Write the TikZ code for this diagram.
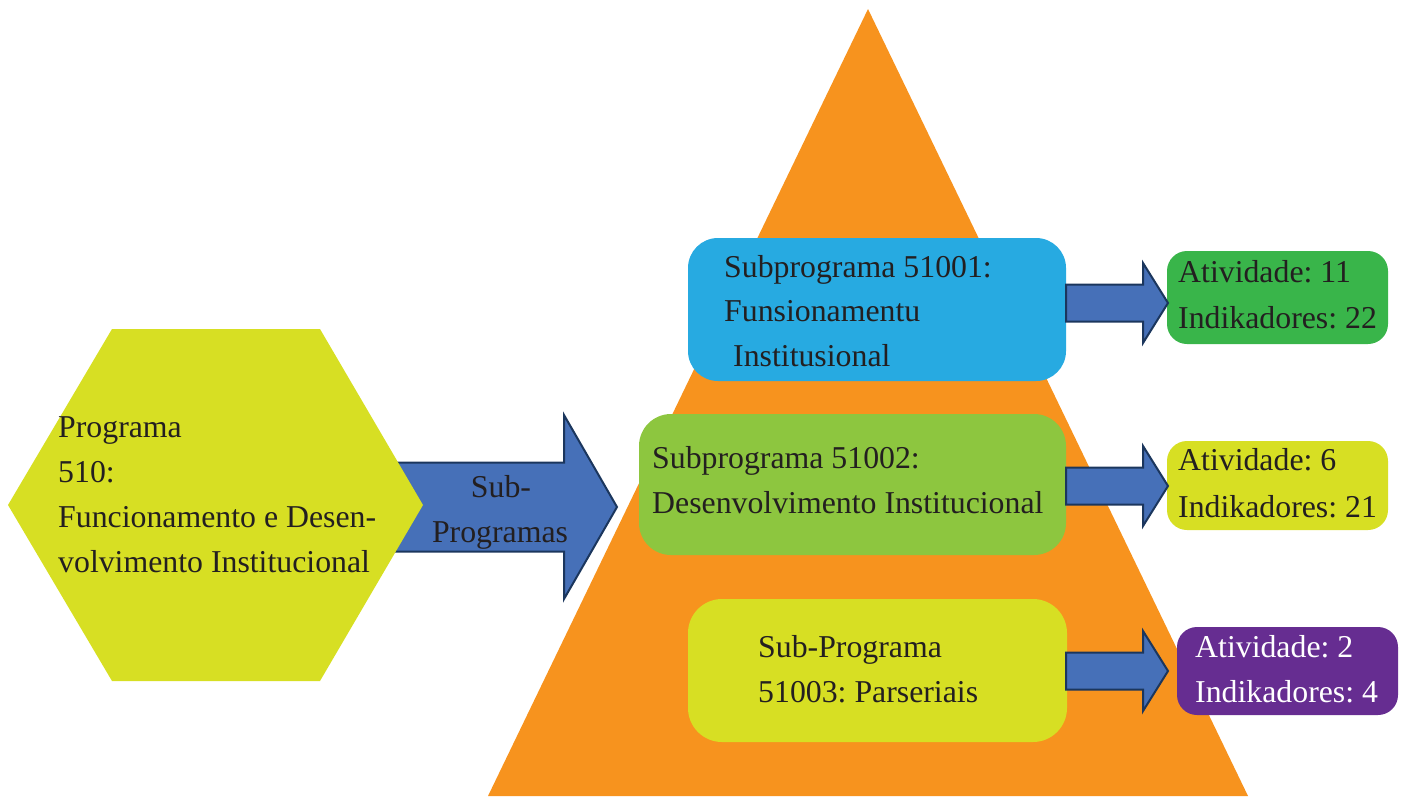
\documentclass[tikz,border=0pt]{standalone}
\usepackage{fontspec}
\setmainfont{Liberation Serif}
\usetikzlibrary{calc}
\definecolor{corange}{HTML}{F7931E}
\definecolor{cblue}{HTML}{27AAE1}
\definecolor{cgreen}{HTML}{8DC63F}
\definecolor{cyellow}{HTML}{D7DF23}
\definecolor{cdgreen}{HTML}{39B54A}
\definecolor{cpurple}{HTML}{662D91}
\definecolor{carrow}{HTML}{4670B8}
\definecolor{carrowline}{HTML}{1B365D}
\definecolor{ctext}{HTML}{231F20}
\newcommand\blockarrow[5]{% tail, tip, shaft half width, head half width, head length
  \draw[arrowsty] let \p1=(#1), \p2=(#2) in
    (\x1,\y1+#3) -- (\x2-#5,\y1+#3) -- (\x2-#5,\y1+#4) -- (\x2,\y2)
    -- (\x2-#5,\y1-#4) -- (\x2-#5,\y1-#3) -- (\x1,\y1-#3) -- cycle;}
\frenchspacing
\begin{document}
\frenchspacing
\begin{tikzpicture}[x=1pt,y=-1pt,
  txt/.style={anchor=base west, inner sep=0pt, text=ctext, font=\fontsize{31.8}{45}\selectfont\frenchspacing},
  wtxt/.style={txt, text=white},
  ctxt/.style={txt, anchor=base},
  box/.style={draw=none, inner sep=0pt},
  arrowsty/.style={fill=carrow, draw=carrowline, line width=2pt, line join=miter}]
\useasboundingbox (0,0) rectangle (1402,796);
% pyramid
\coordinate (apex) at (868,9);
\coordinate (pl) at (488,796);
\coordinate (pr) at (1248,796);
\fill[corange] (apex) -- (pr) -- (pl) -- cycle;
% big arrow
\coordinate (bigtail) at (395,507);
\coordinate (bigtip) at (617,507);
\blockarrow{bigtail}{bigtip}{44.5pt}{92pt}{53pt}
% hexagon
\coordinate (h1) at (8,505);
\coordinate (h2) at (112,329);
\coordinate (h3) at (320,329);
\coordinate (h4) at (423,505);
\coordinate (h5) at (320,681);
\coordinate (h6) at (112,681);
\fill[cyellow] (h1) -- (h2) -- (h3) -- (h4) -- (h5) -- (h6) -- cycle;
\node[txt] (t1) at (58,437) {Programa};
\node[txt] (t2) at (58,482) {510:};
\node[txt] (t3) at (58,527) {Funcionamento e Desen-};
\node[txt] (t4) at (58,572) {volvimento Institucional};
\node[ctxt] (s1) at (501,497) {Sub-};
\node[ctxt] (s2) at (500,542) {Programas};
% subprogram boxes
\node[box, fill=cblue, minimum width=378pt, minimum height=143pt, rounded corners=30pt] (b1) at (877,309.5) {};
\node[box, fill=cgreen, minimum width=427pt, minimum height=141pt, rounded corners=32pt] (b2) at (852.5,484.5) {};
\node[box, fill=cyellow, minimum width=379pt, minimum height=143pt, rounded corners=34pt] (b3) at (877.5,670.5) {};
\node[txt] (b1a) at (724,277) {Subprograma 51001:};
\node[txt] (b1b) at (724,321) {Funsionamentu};
\node[txt] (b1c) at (733,366) {Institusional};
\node[txt] (b2a) at (652,468) {Subprograma 51002:};
\node[txt] (b2b) at (652,513) {Desenvolvimento Institucional};
\node[txt] (b3a) at (758,657) {Sub-Programa};
\node[txt] (b3b) at (758,702) {51003: Parseriais};
% result boxes
\node[box, fill=cdgreen, minimum width=221pt, minimum height=93pt, rounded corners=20pt] (r1) at (1277.5,297.5) {};
\node[box, fill=cyellow, minimum width=221pt, minimum height=89pt, rounded corners=20pt] (r2) at (1277.5,485.5) {};
\node[box, fill=cpurple, minimum width=221pt, minimum height=88pt, rounded corners=20pt] (r3) at (1287.5,671) {};
\node[txt] (r1a) at (1178,282) {Atividade: 11};
\node[txt] (r1b) at (1178,328) {Indikadores: 22};
\node[txt] (r2a) at (1178,470) {Atividade: 6};
\node[txt] (r2b) at (1178,517) {Indikadores: 21};
\node[wtxt] (r3a) at (1195,657) {Atividade: 2};
\node[wtxt] (r3b) at (1195,702) {Indikadores: 4};
% small arrows
\coordinate (a1s) at (1066,303);
\coordinate (a1t) at (1168,303);
\coordinate (a2s) at (1066,486);
\coordinate (a2t) at (1168,486);
\coordinate (a3s) at (1066,671);
\coordinate (a3t) at (1168,671);
\blockarrow{a1s}{a1t}{18.5pt}{40pt}{25pt}
\blockarrow{a2s}{a2t}{18.5pt}{40pt}{25pt}
\blockarrow{a3s}{a3t}{18.5pt}{40pt}{25pt}
\end{tikzpicture}
\end{document}
